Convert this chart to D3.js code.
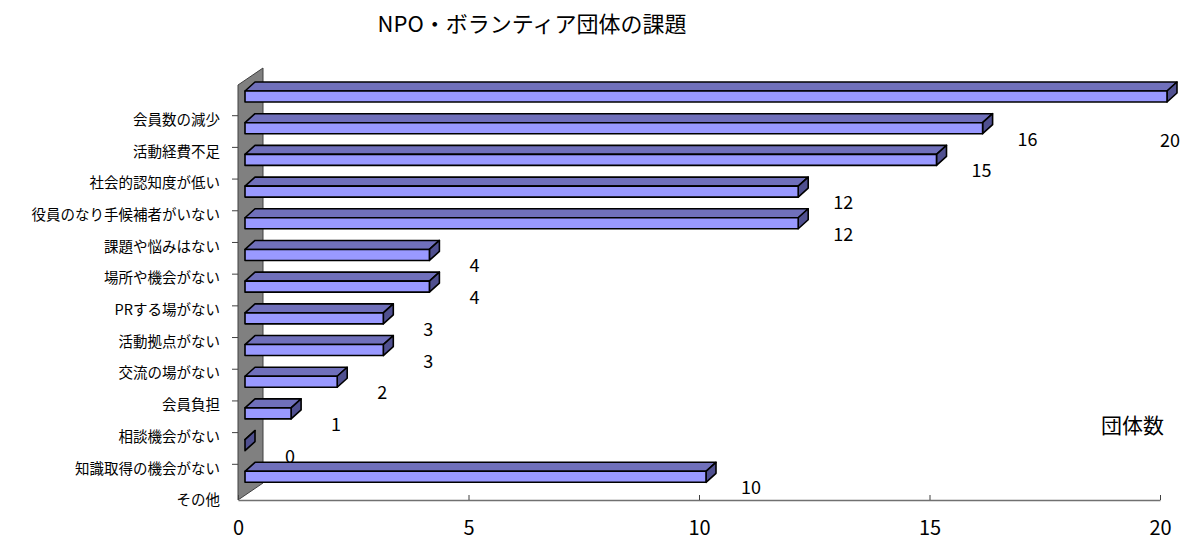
<!DOCTYPE html>
<html>
<head>
<meta charset="utf-8">
<script src="https://cdn.jsdelivr.net/npm/d3@7"></script>
<style>
    body { margin: 0; background: #fff; }
    svg { display: block; font-family: "Noto Sans CJK JP", "Noto Sans", sans-serif; }
</style>
</head>
<body>
<div class="container"></div>
<script>
const width = 1185,
    height = 543;

const categories = ['会員数の減少', '活動経費不足', '社会的認知度が低い', '役員のなり手候補者がいない',
    '課題や悩みはない', '場所や機会がない', 'PRする場がない', '活動拠点がない', '交流の場がない',
    '会員負担', '相談機会がない', '知識取得の機会がない', 'その他'];
const values = [20, 16, 15, 12, 12, 4, 4, 3, 3, 2, 1, 0, 10];
const xTicks = [0, 5, 10, 15, 20];

const x = d3.scaleLinear().domain([0, 20]).range([238, 1160]);
const y = d3.scaleBand().domain(categories).range([84, 496]).padding(0);

const floorY = 500,
    wallTop = 85,
    depthX = 25, depthY = 17,       // wall depth
    barDX = 10, barDY = 9,          // bar depth
    barOff = 7, barH = 11;

const svg = d3.select('.container')
    .append('svg')
    .attr('width', width)
    .attr('height', height);

svg.append('text')
    .attr('x', 532)
    .attr('y', 32)
    .attr('text-anchor', 'middle')
    .attr('font-size', 22)
    .text('NPO・ボランティア団体の課題');

// back wall
const x0 = x(0);
svg.append('polygon')
    .attr('points', [[x0, wallTop], [x0 + depthX, wallTop - depthY], [x0 + depthX, floorY - depthY], [x0, floorY]].join(' '))
    .attr('fill', '#808080')
    .attr('stroke', '#404040')
    .attr('stroke-width', 1);

// category ticks
svg.append('g')
    .selectAll('line')
    .data(categories.slice(0, -1))
    .enter()
    .append('line')
    .attr('x1', x0 - 6)
    .attr('x2', x0)
    .attr('y1', d => y(d) + y.bandwidth())
    .attr('y2', d => y(d) + y.bandwidth())
    .attr('stroke', '#404040');

// floor axis
const axis = svg.append('g')
    .attr('transform', `translate(0, ${floorY})`)
    .call(d3.axisBottom(x).tickValues(xTicks).tickSize(-5).tickSizeOuter(0).tickPadding(21));
axis.select('.domain').attr('stroke', '#707070').attr('stroke-width', 1.5);
axis.selectAll('.tick line').attr('stroke', '#404040');
axis.selectAll('.tick text')
    .attr('font-size', 20)
    .attr('fill', '#000')
    .attr('font-family', '"Noto Sans CJK JP", sans-serif');

// bars
const bars = svg.append('g')
    .selectAll('g')
    .data(categories.map((c, i) => ({ name: c, value: values[i] })))
    .enter()
    .append('g');

const face = (pts) => pts.map(p => p.join(',')).join(' ');

bars.append('polygon')
    .attr('points', d => {
        const top = y(d.name) + barOff, a = x0 + barOff, b = x(d.value) + barOff;
        return face([[a, top], [a + barDX, top - barDY], [b + barDX, top - barDY], [b, top]]);
    })
    .attr('fill', '#7070bb');

bars.append('polygon')
    .attr('points', d => {
        const top = y(d.name) + barOff, b = x(d.value) + barOff;
        return face([[b, top], [b + barDX, top - barDY], [b + barDX, top - barDY + barH], [b, top + barH]]);
    })
    .attr('fill', '#505090');

bars.append('rect')
    .attr('x', x0 + barOff)
    .attr('y', d => y(d.name) + barOff)
    .attr('width', d => x(d.value) - x0)
    .attr('height', barH)
    .attr('fill', '#9999ff');

bars.selectAll('polygon, rect')
    .attr('stroke', '#000')
    .attr('stroke-width', 1.6)
    .attr('stroke-linejoin', 'round');

// data labels
bars.append('text')
    .attr('x', d => Math.min(x(d.value) + barOff + 45, 1170))
    .attr('y', d => {
        const c = y(d.name) + barOff + barH / 2;
        return x(d.value) + barOff + 45 > 1170 ? c + 44 : c + 11;
    })
    .attr('dy', '0.36em')
    .attr('text-anchor', 'middle')
    .attr('font-size', 18)
    .text(d => d.value);

// category labels
svg.append('g')
    .selectAll('text')
    .data(categories)
    .enter()
    .append('text')
    .attr('x', 220)
    .attr('y', d => y(d) + y.bandwidth() + 4)
    .attr('dy', '0.36em')
    .attr('text-anchor', 'end')
    .attr('font-size', 14.5)
    .text(d => d);

svg.append('text')
    .attr('x', 1101)
    .attr('y', 433)
    .attr('font-size', 21)
    .text('団体数');
</script>
</body>
</html>
